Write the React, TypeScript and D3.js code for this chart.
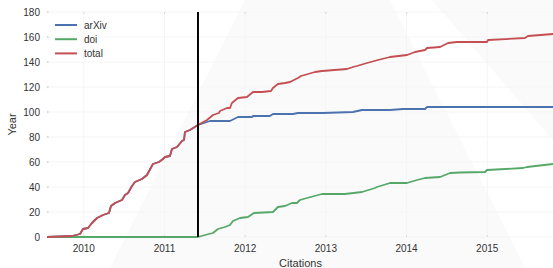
import React from 'react';
import * as d3 from 'd3';

// total citations (decimal year, count)
const totalYears = [
  2009.544, 2009.854, 2009.953, 2009.99, 2010.052, 2010.102, 2010.164, 2010.238, 2010.312, 2010.337,
  2010.387, 2010.473, 2010.511, 2010.548, 2010.597, 2010.634, 2010.721, 2010.783, 2010.857, 2010.932,
  2010.981, 2011.006, 2011.068, 2011.093, 2011.155, 2011.217, 2011.242, 2011.254, 2011.316, 2011.415,
  2011.527, 2011.601, 2011.675, 2011.688, 2011.774, 2011.812, 2011.836, 2011.911, 2012.022, 2012.097,
  2012.208, 2012.32, 2012.344, 2012.406, 2012.493, 2012.555, 2012.654, 2012.692, 2012.865, 2012.952,
  2013.262, 2013.336, 2013.386, 2013.51, 2013.646, 2013.795, 2014.006, 2014.105, 2014.229, 2014.254,
  2014.415, 2014.514, 2014.626, 2014.997, 2015.01, 2015.468, 2015.505, 2015.815,
];
const totalValues = [
  0, 0.8, 2.4, 6.4, 7.2, 11.2, 15.2, 17.6, 19.2, 24.8,
  27.2, 29.6, 33.6, 35.2, 40.8, 44, 46.4, 49.6, 58.4, 60,
  62.4, 64, 64.8, 70.4, 72, 76.8, 77.6, 84, 85.6, 89.6,
  93.6, 97.6, 99.2, 100.8, 103.2, 103.2, 107.2, 111.2, 112, 116,
  116, 116.8, 119.2, 122.4, 123.2, 124, 127.2, 128.8, 132, 132.8,
  134.4, 136, 136.8, 139.2, 141.6, 144, 145.6, 148, 149.6, 151.2,
  152, 155.2, 156, 156, 157.6, 159.2, 160.8, 162.4,
];

// arXiv follows total until the split, then flattens
const arxivLateYears = [
  2011.564, 2011.812, 2011.911, 2012.084, 2012.097, 2012.307, 2012.344, 2012.592, 2012.654, 2012.964,
  2013.336, 2013.448, 2013.795, 2013.956, 2014.229, 2014.254, 2015.815,
];
const arxivLateValues = [
  92.8, 92.8, 96, 96, 96.8, 96.8, 98.4, 98.4, 99.2, 99.2,
  100, 101.6, 101.6, 102.4, 102.4, 104, 104,
];

const doiYears = [
  2009.544, 2011.415, 2011.502, 2011.601, 2011.663, 2011.75, 2011.812, 2011.849, 2011.936, 2012.035,
  2012.109, 2012.344, 2012.406, 2012.493, 2012.58, 2012.642, 2012.679, 2012.766, 2012.952, 2013.237,
  2013.448, 2013.609, 2013.634, 2013.795, 2014.006, 2014.13, 2014.229, 2014.415, 2014.539, 2014.663,
  2014.973, 2014.997, 2015.444, 2015.493, 2015.815,
];
const doiValues = [
  0, 0, 1.6, 3.2, 6.4, 8, 9.6, 12.8, 15.2, 16,
  19.2, 20, 24, 24.8, 27.2, 27.2, 29.6, 31.2, 34.4, 34.4,
  36, 39.2, 40, 43.2, 43.2, 45.6, 47.2, 48, 51.2, 51.6,
  52, 53.6, 55.2, 56, 58.4,
];

const splitYear = 2011.415;
const xTicks = [2010, 2011, 2012, 2013, 2014, 2015];
const yTicks = [0, 20, 40, 60, 80, 100, 120, 140, 160, 180];
const seriesNames = ['arXiv', 'doi', 'total'];
const colors = ['#4c72b0', '#55a868', '#c44e52'];

const W = 553, H = 268;
const margin = { top: 12, right: 0, bottom: 31, left: 47 };

const App = () => {
  const x = d3.scaleLinear().domain([2009.544, 2015.815]).range([margin.left, W - margin.right]);
  const y = d3.scaleLinear().domain([0, 180]).range([H - margin.bottom, margin.top]);

  const splitIdx = totalYears.indexOf(splitYear);
  const arxivYears = [...totalYears.slice(0, splitIdx + 1), ...arxivLateYears];
  const arxivValues = [...totalValues.slice(0, splitIdx + 1), ...arxivLateValues];

  const series = [
    { years: arxivYears, values: arxivValues },
    { years: doiYears, values: doiValues },
    { years: totalYears, values: totalValues },
  ];

  const line = d3.line<[number, number]>()
    .x(d => x(d[0]))
    .y(d => y(d[1]));

  const font = '"Liberation Sans", Arial, sans-serif';
  const [x0, x1] = x.range();
  const [y0, y1] = y.range();

  return (
    <svg width={W} height={H} style={{ position: 'absolute', left: 0, top: 0 }} fontFamily={font}>
      <rect width={W} height={H} fill="#fff" />
      {/* faint watermark in the background */}
      <polygon points="110,268 245,0 390,0 525,268" fill="#fafafa" />
      <polygon points="432,0 553,0 553,140" fill="#fafafa" />

      {xTicks.map(t => (
        <g key={'x' + t}>
          <line x1={x(t)} x2={x(t)} y1={y1} y2={y0} stroke="#f5f5f5" strokeWidth={1} />
          <line x1={x(t)} x2={x(t)} y1={y1} y2={y1 + 1.5} stroke="#bbb" />
          <line x1={x(t)} x2={x(t)} y1={y0 - 1.5} y2={y0} stroke="#bbb" />
          <text x={x(t)} y={y0 + 15} textAnchor="middle" fontSize={10} fill="#333">{t}</text>
        </g>
      ))}
      {yTicks.map(t => (
        <g key={'y' + t}>
          <line x1={x0} x2={x1} y1={y(t)} y2={y(t)} stroke="#f5f5f5" strokeWidth={1} />
          <line x1={x0} x2={x0 + 1.5} y1={y(t)} y2={y(t)} stroke="#bbb" />
          <text x={x0 - 7} y={y(t) + 3.5} textAnchor="end" fontSize={10} fill="#333">{t}</text>
        </g>
      ))}

      {series.map((s, i) => (
        <path
          key={seriesNames[i]}
          d={line(s.years.map((yr, j) => [yr, s.values[j]] as [number, number])) || ''}
          fill="none"
          stroke={colors[i]}
          strokeWidth={1.8}
          strokeLinejoin="round"
        />
      ))}

      <line x1={x(splitYear)} x2={x(splitYear)} y1={y(180)} y2={y(0)} stroke="#000" strokeWidth={2} />

      {seriesNames.map((name, i) => (
        <g key={'leg' + name} transform={`translate(55,${25 + i * 14.2})`}>
          <line x1={0} x2={22} y1={0} y2={0} stroke={colors[i]} strokeWidth={2} />
          <text x={29} y={3.5} fontSize={10} fill="#333">{name}</text>
        </g>
      ))}

      <text x={(x0 + x1) / 2 + 0.5} y={H - 1.5} textAnchor="middle" fontSize={11} fill="#333">Citations</text>
      <text transform={`translate(15.5,${(y0 + y1) / 2})rotate(-90)`} textAnchor="middle" fontSize={11} fill="#333">Year</text>
    </svg>
  );
};

export default App;
